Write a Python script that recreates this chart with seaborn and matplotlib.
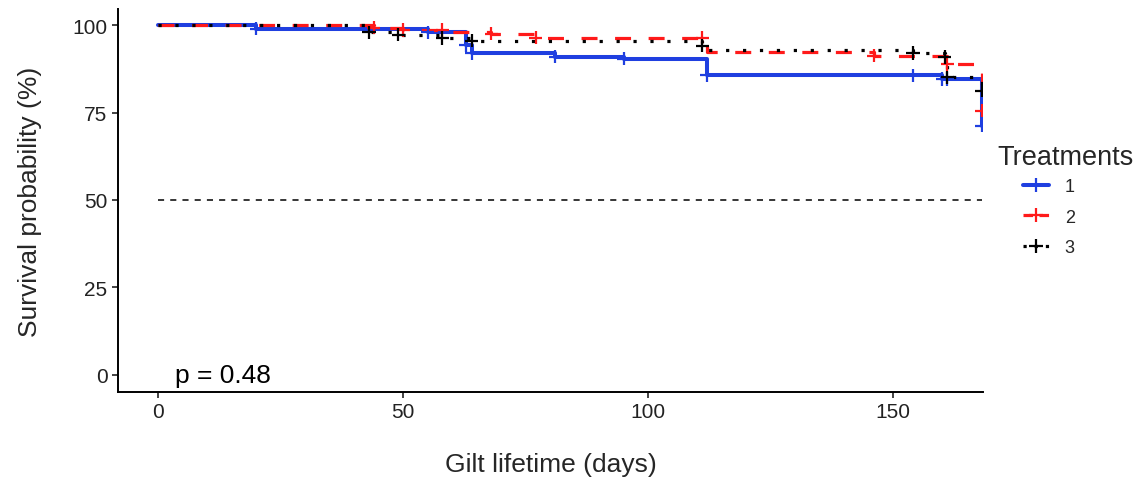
import numpy as np
import pandas as pd
import matplotlib
matplotlib.use("Agg")
import matplotlib.pyplot as plt
from matplotlib.lines import Line2D
import seaborn as sns

# --- data ---
groups = ["1", "2", "3"]
colors = ["#1f3fe0", "#ff1a1a", "#000000"]

# step points (time in days, survival in %)
blue_time = [0, 20, 55, 62.8, 64, 81, 95, 112, 160, 168]
blue_surv = [100, 99.0, 97.9, 94.3, 92.0, 91.0, 90.4, 85.6, 84.6, 71.2]
blue_censor = [20, 55, 62.8, 64, 81, 95, 112, 154, 160, 161, 168]

red_time = [0, 44, 50, 60, 68, 77, 112, 146, 161, 168]
red_surv = [100, 99.3, 98.6, 98.0, 97.5, 96.4, 92.3, 91.2, 88.9, 75.5]
red_censor = [44, 50, 58, 68, 77, 111, 146, 161, 168]

black_time = [0, 43, 49, 58, 64, 111, 112, 154, 160.5, 161, 168]
black_surv = [100, 97.9, 97.2, 96.3, 95.5, 94.1, 93.0, 92.0, 90.9, 85.1, 81.2]
black_censor = [43, 49, 58, 64, 111, 154, 160.5, 161, 168]

p_label = "p = 0.48"
x_ticks = [0, 50, 100, 150]
y_ticks = [0, 25, 50, 75, 100]

# --- build long tables ---
times = [blue_time, red_time, black_time]
survs = [blue_surv, red_surv, black_surv]
censors = [blue_censor, red_censor, black_censor]

curves = pd.concat([
    pd.DataFrame({"time": t, "surv": s, "Treatments": g})
    for g, t, s in zip(groups, times, survs)
], ignore_index=True)

mark_rows = []
for g, t, s, c in zip(groups, times, survs, censors):
    t = np.asarray(t)
    s = np.asarray(s)
    for ct in c:
        idx = np.searchsorted(t, ct, side="right") - 1
        mark_rows.append({"time": ct, "surv": s[idx], "Treatments": g})
marks = pd.DataFrame(mark_rows)

# --- plot ---
sns.set_theme(style="white")
plt.rcParams["font.family"] = ["Liberation Sans", "DejaVu Sans"]

fig = plt.figure(figsize=(11.37, 4.85), dpi=100)
ax = fig.add_axes([118 / 1137, 1 - 393 / 485, (983 - 118) / 1137, (393 - 10) / 485])

pal = dict(zip(groups, colors))
dashes = {"1": "", "2": (5, 5.5), "3": (1, 4.3)}

tmax = max(max(t) for t in times)
ax.hlines(50, 0, tmax, colors="black", linestyles=(0, (4, 4)), linewidth=1.1)

sns.lineplot(data=curves, x="time", y="surv", hue="Treatments", style="Treatments",
             palette=pal, dashes=dashes, drawstyle="steps-post", estimator=None,
             sort=False, legend=False, linewidth=2.2, ax=ax)
widths = [2.9, 2.3, 2.3]
for line, w in zip(ax.lines[-3:], widths):
    line.set_linewidth(w)

sns.scatterplot(data=marks, x="time", y="surv", hue="Treatments", palette=pal,
                marker="+", s=90, linewidth=1.6, legend=False, ax=ax, zorder=3)

ax.text(3.5, 0, p_label, ha="left", va="center", fontsize=19, color="black")

ax.set_xlim(-8.2, 168.3)
ax.set_ylim(-4.9, 104.6)
ax.set_xticks(x_ticks)
ax.set_yticks(y_ticks)
ax.set_xlabel("Gilt lifetime (days)", fontsize=19, labelpad=22)
ax.set_ylabel("Survival probability (%)", fontsize=19, labelpad=22)
ax.tick_params(axis="both", labelsize=15, colors="#222222", length=4, width=1.2,
               direction="out", bottom=True, left=True)
sns.despine(ax=ax)
for sp in ["left", "bottom"]:
    ax.spines[sp].set_color("black")
    ax.spines[sp].set_linewidth(1.4)

# legend
fig.text(997 / 1137, 1 - 158 / 485, "Treatments", fontsize=19.5, ha="left", va="center")
handles = [
    Line2D([], [], color=colors[0], linewidth=2.9, marker="+", markersize=10, markeredgewidth=1.6),
    Line2D([], [], color=colors[1], linewidth=2.3, dashes=(3, 2), marker="+", markersize=10, markeredgewidth=1.6),
    Line2D([], [], color=colors[2], linewidth=2.3, dashes=(1, 2.5), marker="+", markersize=10, markeredgewidth=1.6),
]
fig.legend(handles, groups, loc="upper left", bbox_to_anchor=(1016 / 1137, 1 - 172 / 485),
           frameon=False, fontsize=13, numpoints=1, handlelength=1.4, handletextpad=0.9,
           labelspacing=0.75, borderaxespad=0)

fig.savefig("out.png", dpi=100)
